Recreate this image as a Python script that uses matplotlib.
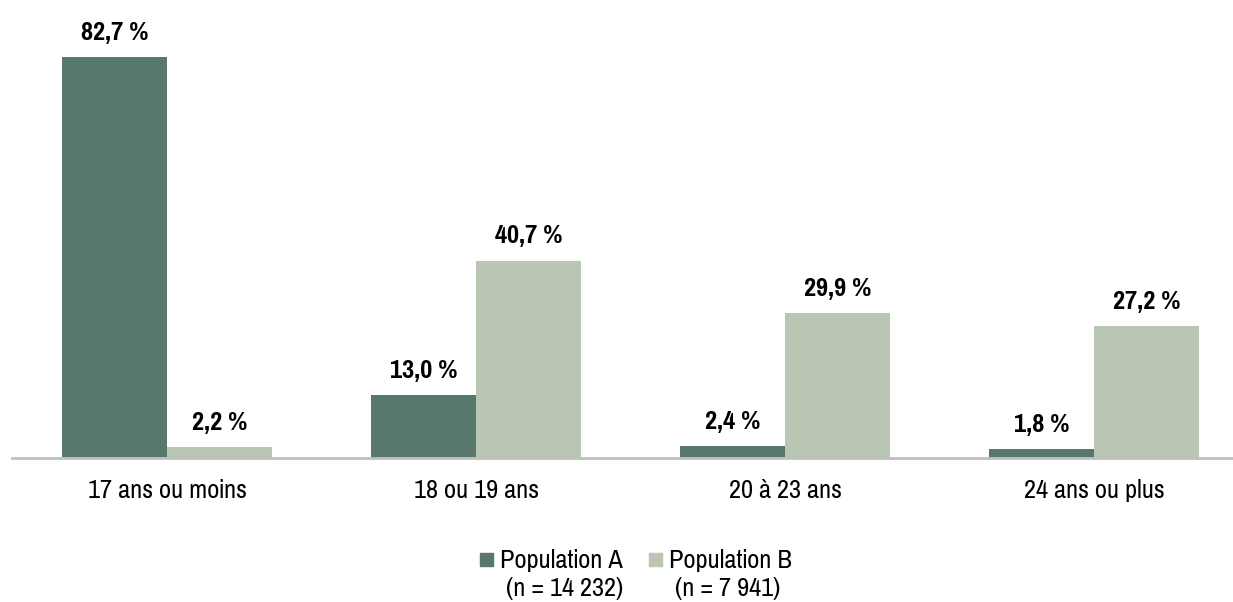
import numpy as np
import matplotlib
matplotlib.use('Agg')
import matplotlib.pyplot as plt
from matplotlib.patches import Rectangle

# données
categories = ['17 ans ou moins', '18 ou 19 ans', '20 à 23 ans', '24 ans ou plus']
pop_a = [82.7, 13.0, 2.4, 1.8]
pop_b = [2.2, 40.7, 29.9, 27.2]
series_names = ['Population A', 'Population B']
series_n = ['(n = 14 232)', '(n = 7 941)']

col_a = '#57786b'
col_b = '#b9c6b3'

plt.rcParams['font.family'] = ['Pragati Narrow', 'Roboto Condensed', 'DejaVu Sans']
fs = 20.7

W, H = 1233, 602
fig = plt.figure(figsize=(W / 100, H / 100), dpi=100)
ax = fig.add_axes([12 / W, (H - 458) / H, (W - 12) / W, 458 / H])

x = np.arange(len(categories))
bw = 105 / 309
bars_a = ax.bar(x - bw / 2, pop_a, bw, color=col_a)
bars_b = ax.bar(x + bw / 2, pop_b, bw, color=col_b)

# étiquettes des valeurs
for bars, vals in [(bars_a, pop_a), (bars_b, pop_b)]:
    for b, v in zip(bars, vals):
        ax.annotate(f'{v:.1f} %'.replace('.', ','),
                    (b.get_x() + b.get_width() / 2, v),
                    xytext=(0, 9.5), textcoords='offset points',
                    ha='center', va='bottom', fontsize=fs, fontweight='bold')

ax.set_xlim(-155 / 309, 3 + (W - 1094) / 309)
ax.set_ylim(0, 458 / 4.85)
ax.set_xticks(x)
ax.set_xticklabels(categories, fontsize=fs)
ax.tick_params(axis='x', length=0, pad=15)
ax.set_yticks([])
for s in ['top', 'right', 'left']:
    ax.spines[s].set_visible(False)
ax.spines['bottom'].set_color('#c0c0c0')
ax.spines['bottom'].set_linewidth(2)

# légende manuelle
for i, (name, n, c) in enumerate(zip(series_names, series_n, [col_a, col_b])):
    x0 = [480, 649][i]
    fig.add_artist(Rectangle((x0 / W, (H - 566) / H), 13 / W, 13 / H,
                             transform=fig.transFigure, color=c))
    fig.text((x0 + 20) / W, (H - 560) / H, name, fontsize=fs,
             ha='left', va='center')
    fig.text((x0 + 26) / W, (H - 588) / H, n, fontsize=fs,
             ha='left', va='center')

fig.savefig('out.png', dpi=100)
